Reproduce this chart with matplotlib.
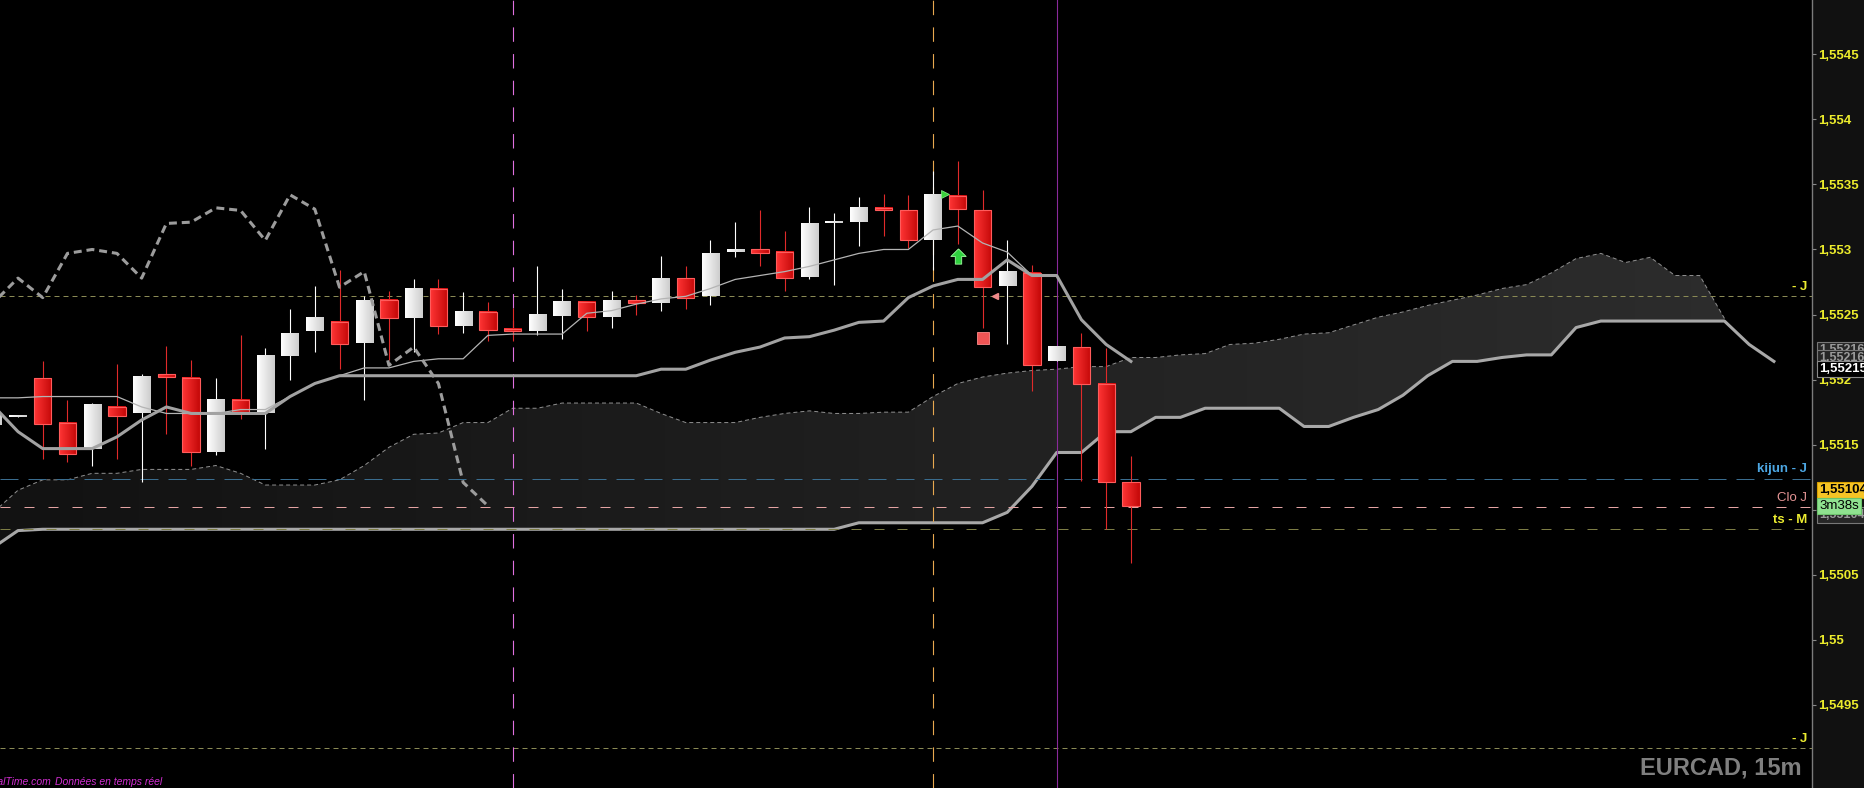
import numpy as np
import matplotlib
matplotlib.use('Agg')
import matplotlib.pyplot as plt
import matplotlib.transforms as mtransforms
from matplotlib.colors import LinearSegmentedColormap
from matplotlib.patches import Rectangle
from matplotlib.path import Path
from matplotlib.ticker import FixedLocator, FuncFormatter

# EURCAD 15m - bougies, index -1 .. 45
idx = list(range(-1, 46))
opens = [1.55165, 1.55172, 1.55201, 1.55167, 1.55147, 1.55179, 1.55174, 1.55204, 1.55201, 1.55144,
         1.55184, 1.55174, 1.55218, 1.55237, 1.55244, 1.55228, 1.55261, 1.55247, 1.55270, 1.55241,
         1.55252, 1.55239, 1.55237, 1.55249, 1.55260, 1.55248, 1.55261, 1.55259, 1.55278, 1.55264,
         1.55298, 1.55300, 1.55298, 1.55279, 1.55321, 1.55321, 1.55332, 1.55330, 1.55307, 1.55341,
         1.55330, 1.55272, 1.55282, 1.55214, 1.55225, 1.55197, 1.55121]
highs = [1.55181, 1.55173, 1.55214, 1.55184, 1.55182, 1.55212, 1.55204, 1.55226, 1.55215, 1.55201,
         1.55234, 1.55224, 1.55254, 1.55272, 1.55284, 1.55264, 1.55268, 1.55277, 1.55277, 1.55267,
         1.55260, 1.55255, 1.55287, 1.55270, 1.55260, 1.55268, 1.55265, 1.55295, 1.55287, 1.55307,
         1.55321, 1.55330, 1.55314, 1.55333, 1.55328, 1.55340, 1.55343, 1.55342, 1.55360, 1.55368,
         1.55346, 1.55307, 1.55288, 1.55225, 1.55236, 1.55224, 1.55141]
lows = [1.55161, 1.55171, 1.55139, 1.55137, 1.55134, 1.55139, 1.55121, 1.55158, 1.55134, 1.55142,
        1.55170, 1.55147, 1.55200, 1.55221, 1.55208, 1.55184, 1.55215, 1.55221, 1.55235, 1.55236,
        1.55230, 1.55230, 1.55234, 1.55231, 1.55237, 1.55240, 1.55250, 1.55253, 1.55254, 1.55257,
        1.55294, 1.55287, 1.55268, 1.55277, 1.55273, 1.55303, 1.55310, 1.55301, 1.55284, 1.55304,
        1.55240, 1.55227, 1.55191, 1.55214, 1.55122, 1.55085, 1.55059]
closes = [1.55174, 1.55172, 1.55166, 1.55143, 1.55181, 1.55172, 1.55202, 1.55202, 1.55144, 1.55184,
          1.55174, 1.55218, 1.55235, 1.55247, 1.55227, 1.55261, 1.55247, 1.55270, 1.55241, 1.55252,
          1.55238, 1.55237, 1.55250, 1.55260, 1.55248, 1.55261, 1.55259, 1.55278, 1.55263, 1.55297,
          1.55300, 1.55297, 1.55278, 1.55320, 1.55321, 1.55332, 1.55330, 1.55307, 1.55342, 1.55331,
          1.55271, 1.55283, 1.55211, 1.55225, 1.55197, 1.55121, 1.55103]

# ichimoku (tenkan -1..41, kijun -1..45, ssa -1..69, ssb -1..71)
tenkan = [1.55186, 1.55186, 1.55187, 1.55187, 1.55187, 1.55187, 1.55179, 1.55174, 1.55174, 1.55174,
          1.55177, 1.55177, 1.55187, 1.55197, 1.55203, 1.55209, 1.55209, 1.55214, 1.55216, 1.55216,
          1.55234, 1.55235, 1.55235, 1.55235, 1.55251, 1.55253, 1.55258, 1.55262, 1.55264, 1.55270,
          1.55277, 1.55280, 1.55283, 1.55287, 1.55292, 1.55297, 1.55300, 1.55300, 1.55315, 1.55318,
          1.55305, 1.55298, 1.55280]
kijun = [1.55180, 1.55160, 1.55147, 1.55147, 1.55147, 1.55156, 1.55169, 1.55179, 1.55174, 1.55174,
         1.55174, 1.55174, 1.55187, 1.55197, 1.55203, 1.55203, 1.55203, 1.55203, 1.55203, 1.55203,
         1.55203, 1.55203, 1.55203, 1.55203, 1.55203, 1.55203, 1.55203, 1.55208, 1.55208, 1.55215,
         1.55221, 1.55225, 1.55232, 1.55233, 1.55238, 1.55244, 1.55245, 1.55263, 1.55272, 1.55277,
         1.55277, 1.55292, 1.55280, 1.55280, 1.55246, 1.55227, 1.55214]
ssa = [1.55098, 1.55115, 1.55123, 1.55123, 1.55128, 1.55128, 1.55131, 1.55131, 1.55131, 1.55134,
       1.55128, 1.55119, 1.55119, 1.55119, 1.55123, 1.55134, 1.55148, 1.55158, 1.55159, 1.55167,
       1.55167, 1.55178, 1.55178, 1.55182, 1.55182, 1.55182, 1.55182, 1.55174, 1.55167, 1.55167,
       1.55167, 1.55171, 1.55174, 1.55176, 1.55174, 1.55174, 1.55175, 1.55175, 1.55187, 1.55197,
       1.55202, 1.55205, 1.55207, 1.55208, 1.55210, 1.55210, 1.55217, 1.55217, 1.55219, 1.55220,
       1.55227, 1.55228, 1.55231, 1.55235, 1.55236, 1.55242, 1.55248, 1.55252, 1.55257, 1.55261,
       1.55265, 1.55270, 1.55273, 1.55282, 1.55293, 1.55297, 1.55290, 1.55294, 1.55280, 1.55280,
       1.55247]
ssb = [1.55071, 1.55084, 1.55085, 1.55085, 1.55085, 1.55085, 1.55085, 1.55085, 1.55085, 1.55085,
       1.55085, 1.55085, 1.55085, 1.55085, 1.55085, 1.55085, 1.55085, 1.55085, 1.55085, 1.55085,
       1.55085, 1.55085, 1.55085, 1.55085, 1.55085, 1.55085, 1.55085, 1.55085, 1.55085, 1.55085,
       1.55085, 1.55085, 1.55085, 1.55085, 1.55085, 1.55090, 1.55090, 1.55090, 1.55090, 1.55090,
       1.55090, 1.55098, 1.55118, 1.55144, 1.55144, 1.55160, 1.55160, 1.55171, 1.55171, 1.55178,
       1.55178, 1.55178, 1.55178, 1.55164, 1.55164, 1.55171, 1.55177, 1.55188, 1.55203, 1.55214,
       1.55214, 1.55217, 1.55219, 1.55219, 1.55240, 1.55245, 1.55245, 1.55245, 1.55245, 1.55245,
       1.55245, 1.55227, 1.55214]
chikou_shift = 26

# niveaux horizontaux
levels = [1.55264, 1.55124, 1.55102, 1.55085, 1.54917]
level_names = ['- J', 'kijun - J', 'Clo J', 'ts - M', '- J']
level_text_col = ['#ecec30', '#4ca6e2', '#e49494', '#ecec30', '#ecec30']
level_line_col = ['#8a8a55', '#3a6d8f', '#e4a3a3', '#7d7d45', '#8a8a55']
level_dash = [(5, 4), (18, 10), (10, 14), (10, 13), (5, 4)]

# lignes verticales
vl_idx = [20, 37, 42]
vl_col = ['#e070e0', '#e8a850', '#8a2a9a']
vl_dash = [(13, 11), (13, 11), None]

# signaux
sig_x = [37.5, 38, 39, 39.5]
sig_y = [1.55343, 1.55295, 1.55232, 1.55264]

yticks = [1.5495, 1.55, 1.5505, 1.551, 1.5515, 1.552, 1.5525, 1.553, 1.5535, 1.554, 1.5545]

W, H = 1864, 788
AX_R = 1812
plt.rcParams['font.family'] = ['Liberation Sans', 'DejaVu Sans']
plt.rcParams['font.weight'] = 'bold'

fig = plt.figure(figsize=(W / 100, H / 100), dpi=100, facecolor='#111111')
ax = fig.add_axes([0, 0, AX_R / W, 1])
ax.set_facecolor('black')
xmin, xmax = -0.728, 72.54
ymin, ymax = 1.548862, 1.554917

grad = np.linspace(0, 1, 64)[None, :]

# nuage
xa = np.arange(-1, -1 + len(ssa))
xb = np.arange(-1, -1 + len(ssb))
poly = ax.fill_between(xa, ssa, ssb[:len(ssa)], facecolor='none', lw=0)
cloud_cm = LinearSegmentedColormap.from_list('nuage', ['#121212', '#2d2d2d'])
im = ax.imshow(grad, cmap=cloud_cm, extent=[xmin, 71, 1.54, 1.56], aspect='auto', zorder=1)
im.set_clip_path(poly.get_paths()[0], ax.transData)
ax.plot(xa, ssa, color='#8e8e8e', lw=0.72, dashes=(4, 3), zorder=2)
ax.plot(xb, ssb, color='#a8a8a8', lw=2.2, zorder=2)

# niveaux
blend = mtransforms.blended_transform_factory(ax.transAxes, ax.transData)
for lv, name, tc, lc, ds in zip(levels, level_names, level_text_col, level_line_col, level_dash):
    ax.axhline(lv, color=lc, lw=0.72, dashes=ds, zorder=2)
    ax.annotate(name, xy=(1807 / AX_R, lv), xycoords=blend, xytext=(0, 6.5),
                textcoords='offset points', ha='right', va='center', color=tc,
                fontsize=9.5, fontweight='normal' if name == 'Clo J' else 'bold', zorder=6)

for v, c, ds in zip(vl_idx, vl_col, vl_dash):
    if ds is None:
        ax.axvline(v, color=c, lw=0.8, zorder=2)
    else:
        ax.axvline(v, color=c, lw=0.8, dashes=ds, zorder=2)

# bougies
red_cm = LinearSegmentedColormap.from_list('rouge', ['#ff3535', '#c40808'])
white_cm = LinearSegmentedColormap.from_list('blanc', ['#ffffff', '#cdcdcd'])
w = 0.70
for i, o, h, l, c in zip(idx, opens, highs, lows, closes):
    up = c >= o
    ax.vlines(i, l, h, color='white' if up else '#e02a2a', lw=0.8, zorder=4)
    lo, hi = min(o, c), max(o, c)
    if hi - lo < 0.000015:
        m = (hi + lo) / 2
        lo, hi = m - 0.0000075, m + 0.0000075
    ax.imshow(grad, cmap=white_cm if up else red_cm, extent=[i - w / 2, i + w / 2, lo, hi],
              aspect='auto', zorder=4.5, interpolation='bilinear')
    if not up:
        ax.add_patch(Rectangle((i - w / 2, lo), w, hi - lo, fill=False, ec='#ff5c5c', lw=0.8, zorder=4.6))

# tenkan / kijun / chikou
ax.plot(np.arange(-1, -1 + len(tenkan)), tenkan, color='#b4b4b4', lw=0.9, zorder=5)
ax.plot(np.arange(-1, -1 + len(kijun)), kijun, color='#a2a2a2', lw=2.2, zorder=5)
chikou = closes[chikou_shift:]
ax.plot(np.arange(-1, -1 + len(chikou)), chikou, color='#9c9c9c', lw=2.2, dashes=(2.6, 1.6), zorder=5)

# signaux
arrow = Path([(0, 1), (1, 0), (0.42, 0), (0.42, -1), (-0.42, -1), (-0.42, 0), (-1, 0), (0, 1)])
ax.plot(sig_x[0], sig_y[0], marker='>', ms=5.5, color='#3ad13a', mec='#8cf08c', mew=0.5, zorder=7)
ax.plot(sig_x[1], sig_y[1], marker=arrow, ms=11, color='#2fcf3f', mec='#a0ffa0', mew=0.6, zorder=7)
ax.plot(sig_x[2], sig_y[2], marker='s', ms=8.5, color='#f05454', mec='#ff8a8a', mew=0.6, zorder=7)
ax.plot(sig_x[3], sig_y[3], marker='<', ms=5, color='#f08a8a', mec='#f08a8a', zorder=7)

ax.set_xlim(xmin, xmax)
ax.set_ylim(ymin, ymax)
ax.set_xticks([])
for s in ['top', 'left', 'bottom']:
    ax.spines[s].set_visible(False)
ax.spines['right'].set_color('#7c7c7c')
ax.spines['right'].set_linewidth(1.0)
ax.yaxis.tick_right()
ax.yaxis.set_major_locator(FixedLocator(yticks))
ax.yaxis.set_major_formatter(FuncFormatter(
    lambda v, p: f"{v:.4f}".rstrip('0').rstrip('.').replace('.', ',')))
ax.tick_params(axis='y', colors='#8a8a8a', labelcolor='#ecec2c', length=3, width=0.8,
               pad=1.5, labelsize=9.5)


def px(x, y):
    return x / W, 1 - y / H


# étiquettes de prix à droite
box = dict(boxstyle='square,pad=0.18', lw=0.8)
fig.text(*px(1819, 350), '1,55216', color='#9a9a9a', fontsize=9, va='center',
         bbox=dict(box, fc='#262626', ec='#777777'))
fig.text(*px(1819, 358), '1,55216', color='#9a9a9a', fontsize=9, va='center',
         bbox=dict(box, fc='#262626', ec='#777777'))
fig.text(*px(1819, 369), '1,55215', color='white', fontsize=9.5, va='center',
         bbox=dict(box, fc='black', ec='#8a8a8a'))
fig.text(*px(1819, 515), '1,55104', color='#9a9a9a', fontsize=9, va='center',
         bbox=dict(box, fc='#262626', ec='#777777'))
fig.text(*px(1819, 490), '1,55104', color='black', fontsize=9.5, va='center',
         bbox=dict(box, fc='#f6c426', ec='#d8a000'))
fig.text(*px(1819, 506), '3m38s', color='black', fontsize=9.5, fontweight='normal', va='center',
         bbox=dict(box, fc='#8fe28f', ec='#6cc46c'))

fig.text(*px(1802, 775), 'EURCAD, 15m', color='#7f7f7f', fontsize=17, ha='right', va='baseline')
fig.text(*px(51, 785), 'ProRealTime.com', color='#d22ed2', fontsize=7.5, fontweight='normal',
         ha='right', va='baseline', style='italic')
fig.text(*px(55, 785), 'Données en temps réel', color='#d22ed2', fontsize=7.5, fontweight='normal',
         ha='left', va='baseline', style='italic')

fig.savefig('out.png', dpi=100, facecolor=fig.get_facecolor())
